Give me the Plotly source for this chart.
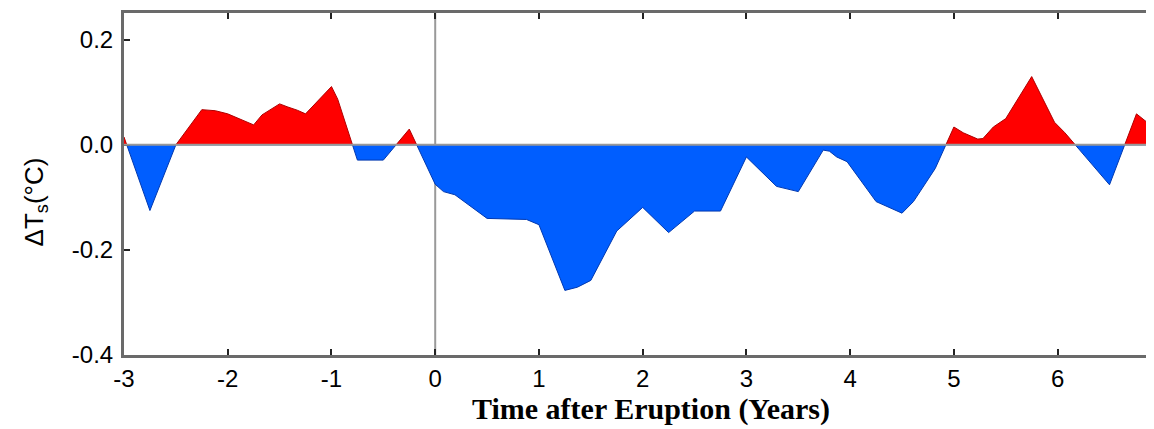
import plotly.graph_objects as go

# Time after eruption (years) and surface temperature anomaly (°C)
years = [-3.0, -2.75, -2.5, -2.25, -2.12, -2.0, -1.75, -1.67, -1.5, -1.42, -1.33, -1.25,
         -1.0, -0.94, -0.75, -0.5, -0.25, 0.0, 0.08, 0.19, 0.5, 0.88, 1.0, 1.25, 1.37,
         1.5, 1.75, 2.0, 2.25, 2.5, 2.75, 3.0, 3.11, 3.29, 3.5, 3.74, 3.8, 3.87, 3.97,
         4.25, 4.5, 4.61, 4.82, 5.0, 5.09, 5.23, 5.28, 5.38, 5.5, 5.75, 5.97, 6.07,
         6.5, 6.76, 6.9]
dT = [0.015, -0.125, 0.0, 0.067, 0.065, 0.059, 0.038, 0.057, 0.078, 0.072, 0.066, 0.059,
      0.111, 0.087, -0.029, -0.029, 0.030, -0.075, -0.089, -0.095, -0.140, -0.142, -0.152,
      -0.277, -0.271, -0.258, -0.164, -0.119, -0.167, -0.126, -0.126, -0.023, -0.045,
      -0.079, -0.089, -0.010, -0.012, -0.023, -0.032, -0.108, -0.130, -0.108, -0.045,
      0.034, 0.023, 0.011, 0.012, 0.034, 0.050, 0.130, 0.043, 0.023, -0.076, 0.059, 0.037]

x_ticks = [-3, -2, -1, 0, 1, 2, 3, 4, 5, 6]
x_tick_labels = ["-3", "-2", "-1", "0", "1", "2", "3", "4", "5", "6"]
y_ticks = [-0.4, -0.2, 0.0, 0.2]
y_tick_labels = ["-0.4", "-0.2", "0.0", "0.2"]

# insert zero crossings so positive / negative parts can be filled separately
xs, ys = [years[0]], [dT[0]]
for i in range(1, len(years)):
    x0, y0, x1, y1 = years[i - 1], dT[i - 1], years[i], dT[i]
    if y0 * y1 < 0:
        xc = x0 + (x1 - x0) * (-y0) / (y1 - y0)
        xs.append(xc)
        ys.append(0.0)
    xs.append(x1)
    ys.append(y1)
pos = [max(v, 0.0) for v in ys]
neg = [min(v, 0.0) for v in ys]

fig = go.Figure()
fig.add_trace(go.Scatter(x=xs, y=pos, mode="lines", fill="tozeroy",
                         fillcolor="#ff0000", line=dict(color="#b00000", width=1),
                         hoverinfo="skip", showlegend=False))
fig.add_trace(go.Scatter(x=xs, y=neg, mode="lines", fill="tozeroy",
                         fillcolor="#005eff", line=dict(color="#0038b0", width=1),
                         hoverinfo="skip", showlegend=False))

# vertical line at eruption time, zero line
fig.add_shape(type="line", xref="x", yref="paper", x0=0, x1=0, y0=0, y1=1,
              line=dict(color="#999999", width=2), layer="below")
fig.add_shape(type="line", xref="paper", yref="y", x0=0, x1=1, y0=0, y1=0,
              line=dict(color="#999999", width=2), layer="above")

fig.update_layout(
    width=1146, height=421,
    margin=dict(l=116, r=3, t=2, b=74),
    paper_bgcolor="white", plot_bgcolor="white",
    font=dict(family="Liberation Sans, Arial, sans-serif", size=24, color="black"),
    xaxis=dict(range=[-3, 6.9], tickvals=x_ticks, ticktext=x_tick_labels,
               showgrid=False, zeroline=False, showline=True, linecolor="#6a6a6a",
               linewidth=3, mirror="ticks", ticks="inside", ticklen=6, tickwidth=2,
               tickcolor="#222222"),
    yaxis=dict(range=[-0.4, 0.251], tickvals=y_ticks, ticktext=y_tick_labels,
               showgrid=False, zeroline=False, showline=True, linecolor="#6a6a6a",
               linewidth=3, ticks="inside", ticklen=6, tickwidth=2, tickcolor="#222222",
               ticklabelstandoff=3),
    annotations=[
        dict(text="<b>Time after Eruption (Years)</b>", xref="paper", yref="paper",
             x=0.513, y=-0.157, xanchor="center", yanchor="middle", showarrow=False,
             font=dict(family="Liberation Serif, Times New Roman, serif", size=30,
                       color="black")),
        dict(text="ΔT<sub>s</sub>(°C)", xref="paper", yref="paper",
             x=-0.0867, y=0.449, xanchor="center", yanchor="middle", showarrow=False,
             textangle=-90,
             font=dict(family="Liberation Sans, Arial, sans-serif", size=26,
                       color="black")),
    ],
)

fig.write_html("out.html")
